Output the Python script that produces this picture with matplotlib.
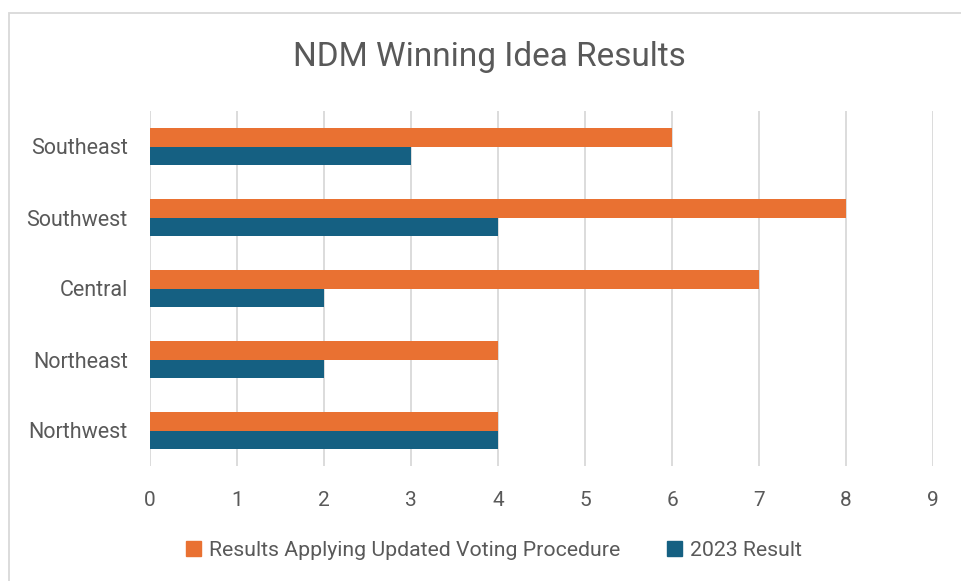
import matplotlib
matplotlib.use("Agg")
import matplotlib.pyplot as plt
import numpy as np
from matplotlib.patches import Rectangle, Patch

categories = ["Northwest", "Northeast", "Central", "Southwest", "Southeast"]
updated = [4, 4, 7, 8, 6]
result_2023 = [4, 2, 2, 4, 3]
series_names = ["Results Applying Updated Voting Procedure", "2023 Result"]
x_ticks = list(range(0, 10))

plt.rcParams['font.family'] = ['Roboto', 'DejaVu Sans']
TEXT = "#595959"
ORANGE = "#E97132"
BLUE = "#156082"
GRID = "#D9D9D9"

fig = plt.figure(figsize=(9.61, 5.81), dpi=100)
ax = fig.add_axes([150/961, 1-466/581, (933-150)/961, (466-111)/581])

y = np.arange(len(categories))
h = 0.255
ax.barh(y + h/2, updated, height=h, color=ORANGE, label=series_names[0], zorder=3)
ax.barh(y - h/2, result_2023, height=h, color=BLUE, label=series_names[1], zorder=3)

ax.set_xlim(0, 9)
ax.set_ylim(-0.5, len(categories) - 0.5)
ax.set_xticks(x_ticks)
ax.set_xticklabels([str(t) for t in x_ticks])
ax.set_yticks(y)
ax.set_yticklabels(categories)
ax.tick_params(axis='x', length=0, labelsize=15, colors=TEXT, pad=18)
ax.tick_params(axis='y', length=0, labelsize=15.5, colors=TEXT, pad=16)
for s in ax.spines.values():
    s.set_visible(False)
ax.xaxis.grid(True, color=GRID, linewidth=1.3, zorder=0)
ax.set_axisbelow(True)

fig.text(489/961, 1-57/581, "NDM Winning Idea Results", ha='center', va='center',
         fontsize=24, color=TEXT)

handles = [Patch(color=ORANGE), Patch(color=BLUE)]
fig.legend(handles, series_names, loc='center', bbox_to_anchor=(494/961, 1-550/581),
           ncol=2, frameon=False, fontsize=15.3, labelcolor=TEXT,
           handlelength=0.7, handleheight=0.7, handletextpad=0.4, columnspacing=2.2)

fig.patches.append(Rectangle((9/961, -0.05), 1.1, 1 - 13/581 + 0.05, transform=fig.transFigure,
                             fill=False, edgecolor=GRID, linewidth=1.3, clip_on=False))

fig.savefig("out.png", dpi=100)
